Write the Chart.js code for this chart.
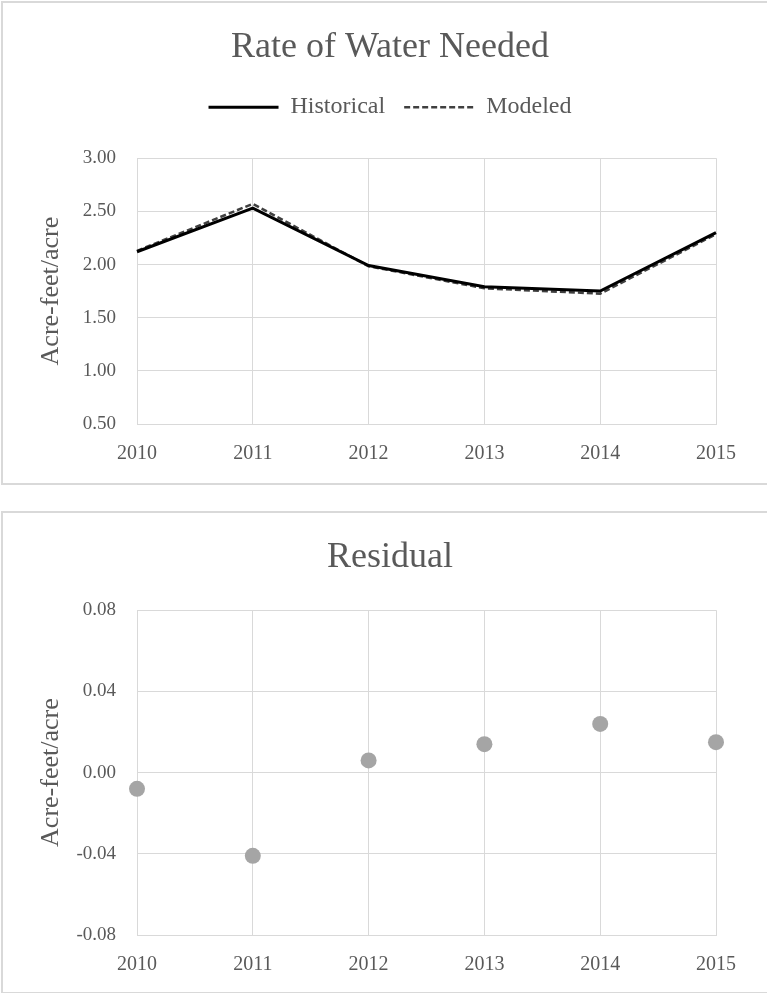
<!DOCTYPE html>
<html>
<head>
<meta charset="utf-8">
<script src="https://cdn.jsdelivr.net/npm/chart.js@4.4.0/dist/chart.umd.min.js"></script>
<style>
    html, body { margin: 0; padding: 0; background: #fff; overflow: hidden; }
    body { width: 767px; height: 993px; position: relative; }
    .frame { position: absolute; box-sizing: border-box; border: 2px solid #d9d9d9; width: 800px; pointer-events: none; }
    .holder { position: absolute; left: 0; width: 780px; }
</style>
</head>
<body>
<div class="holder" style="top:0; height:485px;"><canvas id="rate-chart"></canvas></div>
<div class="holder" style="top:512px; height:481px;"><canvas id="residual-chart"></canvas></div>
<div class="frame" style="left:1px; top:1px; height:484px;"></div>
<div class="frame" style="left:1px; top:511px; height:483px;"></div>

<script>
// values
const years = ['2010', '2011', '2012', '2013', '2014', '2015'];
const historical = [2.12, 2.53, 1.99, 1.79, 1.75, 2.30];
const modeled = [2.128, 2.571, 1.984, 1.776, 1.726, 2.285];
const residual = [-0.008, -0.041, 0.006, 0.014, 0.024, 0.015];

const rateTicks = [0.5, 1.0, 1.5, 2.0, 2.5, 3.0];
const residualTicks = [-0.08, -0.04, 0.0, 0.04, 0.08];

const FONT = "'Liberation Serif', 'Times New Roman', serif";
const TEXT = '#595959';
const GRID = '#d9d9d9';

Chart.defaults.font.family = FONT;
Chart.defaults.color = TEXT;
Chart.defaults.animation = false;

function fmt(v) {
    if (Math.abs(v) < 1e-9) v = 0;
    return v.toFixed(2);
}

function xScale(height) {
    return {
        offset: false,
        grid: { color: GRID, drawTicks: false },
        border: { color: GRID },
        ticks: { padding: 18, font: { size: 20 }, color: TEXT, maxRotation: 0 },
        afterFit: (s) => { s.height = height; }
    };
}

function yScale(ticks) {
    return {
        min: ticks[0],
        max: ticks[ticks.length - 1],
        afterBuildTicks: (s) => { s.ticks = ticks.map(v => ({ value: v })); },
        grid: { color: GRID, drawTicks: false },
        border: { color: GRID },
        ticks: { padding: 21, font: { size: 19 }, color: TEXT, callback: (v) => fmt(v) },
        title: { display: true, text: 'Acre-feet/acre', font: { size: 26 }, color: TEXT, padding: { top: 36, bottom: 0 } },
        afterFit: (s) => { s.width = 137; }
    };
}

// empty axis on the right, only keeps room so titles stay centred on the whole frame
function rightSpacer() {
    return {
        type: 'linear',
        position: 'right',
        grid: { display: false },
        border: { display: false },
        ticks: { display: false },
        afterFit: (s) => { s.width = 64; }
    };
}

// --- top chart: rate of water needed
new Chart(document.getElementById('rate-chart'), {
    type: 'line',
    data: {
        labels: years,
        datasets: [
            {
                label: 'Historical',
                data: historical,
                borderColor: '#000000',
                backgroundColor: '#000000',
                borderWidth: 3,
                pointRadius: 0,
                tension: 0
            },
            {
                label: 'Modeled',
                data: modeled,
                borderColor: '#404040',
                backgroundColor: '#404040',
                borderWidth: 2.5,
                borderDash: [6, 3],
                pointRadius: 0,
                tension: 0
            }
        ]
    },
    options: {
        responsive: true,
        maintainAspectRatio: false,
        layout: { padding: 0 },
        plugins: {
            title: {
                display: true,
                text: 'Rate of Water Needed',
                color: TEXT,
                font: { size: 36, weight: 'normal' },
                padding: { top: 26, bottom: 7 }
            },
            legend: {
                display: true,
                position: 'top',
                labels: {
                    usePointStyle: true,
                    pointStyle: 'line',
                    pointStyleWidth: 70,
                    padding: 19,
                    color: TEXT,
                    font: { size: 24 },
                    generateLabels: (chart) => {
                        const items = Chart.defaults.plugins.legend.labels.generateLabels(chart);
                        return items.map((it) => {
                            const ds = chart.data.datasets[it.datasetIndex];
                            return Object.assign(it, {
                                lineDash: ds.borderDash || [],
                                lineWidth: ds.borderWidth,
                                strokeStyle: ds.borderColor,
                                fillStyle: ds.borderColor
                            });
                        });
                    }
                }
            },
            // empty spacer between legend and plot
            subtitle: {
                display: true,
                text: '',
                weight: 500,
                font: { size: 20 },
                padding: { top: 5, bottom: 0 }
            },
            tooltip: { enabled: false }
        },
        scales: {
            x: xScale(61),
            y: yScale(rateTicks),
            yR: rightSpacer()
        }
    }
});

// --- bottom chart: residual
new Chart(document.getElementById('residual-chart'), {
    type: 'line',
    data: {
        labels: years,
        datasets: [{
            label: 'Residual',
            data: residual,
            showLine: false,
            pointRadius: 8,
            pointBorderWidth: 0,
            pointBackgroundColor: '#a5a5a5',
            pointBorderColor: '#a5a5a5'
        }]
    },
    options: {
        responsive: true,
        maintainAspectRatio: false,
        layout: { padding: 0 },
        plugins: {
            title: {
                display: true,
                text: 'Residual',
                color: TEXT,
                font: { size: 36, weight: 'normal' },
                padding: { top: 24, bottom: 31 }
            },
            legend: { display: false },
            tooltip: { enabled: false }
        },
        scales: {
            x: xScale(58),
            y: yScale(residualTicks),
            yR: rightSpacer()
        }
    }
});
</script>
</body>
</html>
